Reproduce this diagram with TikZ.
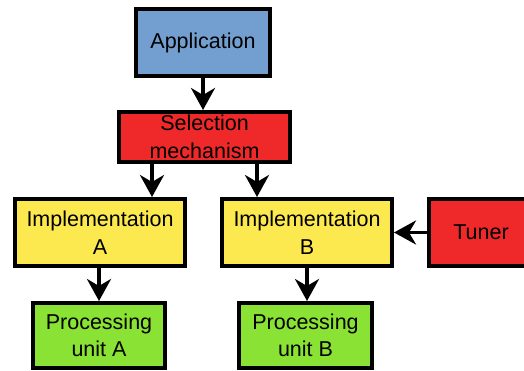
\documentclass[tikz,border=0pt]{standalone}
\usepackage{fontspec}
\setmainfont{Liberation Sans}
\usetikzlibrary{arrows.meta,calc}
\definecolor{skyblue}{HTML}{729FCF}
\definecolor{scarlet}{HTML}{EF2929}
\definecolor{butter}{HTML}{FCE94F}
\definecolor{chameleon}{HTML}{8AE234}
\tikzset{
  box/.style={draw=black, line width=4pt, inner sep=0pt, align=center,
    font=\fontsize{21.5}{27.5}\selectfont},
  arr/.style={line width=3.5pt, -{Stealth[length=22pt,width=24pt,inset=7pt]}}
}
\begin{document}
\begin{tikzpicture}[x=1pt,y=-1pt]
  \useasboundingbox (0,0) rectangle (524,371);
  \clip (0,0) rectangle (524,371);

  \node[box, fill=skyblue, minimum width=134pt, minimum height=67pt] (app) at (203,42.5) {Application};
  \node[box, fill=scarlet, minimum width=171pt, minimum height=50pt] (sel) at (204.5,137) {Selection\\mechanism};
  \node[box, fill=butter, minimum width=170pt, minimum height=67pt] (impA) at (100,232.5) {Implementation\\A};
  \node[box, fill=butter, minimum width=170pt, minimum height=67pt] (impB) at (307,232.5) {Implementation\\B};
  \node[box, fill=scarlet, minimum width=105pt, minimum height=67pt] (tuner) at (481,232.5) {Tuner};
  \node[box, fill=chameleon, minimum width=132pt, minimum height=65pt] (procA) at (99,335.5) {Processing\\unit A};
  \node[box, fill=chameleon, minimum width=133pt, minimum height=65pt] (procB) at (305.5,335.5) {Processing\\unit B};

  \draw[arr] (app.south) -- (app.south |- sel.north);
  \coordinate (selA) at ($(sel.south west)!0.2!(sel.south east)$);
  \coordinate (selB) at ($(sel.south west)!0.8!(sel.south east)$);
  \draw[arr] (selA) -- (selA |- impA.north);
  \draw[arr] (selB) -- (selB |- impB.north);
  \draw[arr] (impA.south -| procA.north) -- (procA.north);
  \draw[arr] (impB.south) -- (impB.south |- procB.north);
  \draw[arr] (tuner.west) -- (impB.east);
\end{tikzpicture}
\end{document}
